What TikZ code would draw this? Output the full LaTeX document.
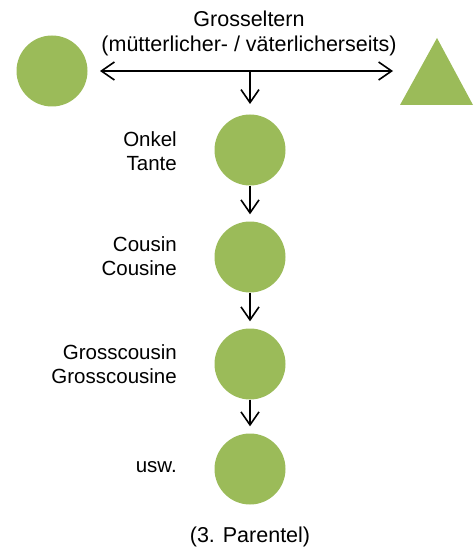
\documentclass[tikz,border=0pt]{standalone}
\usepackage{fontspec}
\setmainfont{Liberation Sans}
\usetikzlibrary{arrows.meta}
\definecolor{olive}{HTML}{9BBB59}
\begin{document}
\begin{tikzpicture}[x=1pt,y=-1pt,
  dot/.style={circle,fill=olive,draw=none,minimum size=71pt,inner sep=0pt},
  lbl/.style={anchor=east,align=right,font=\fontsize{20.5}{24}\selectfont,inner sep=0pt},
  txt/.style={align=center,font=\fontsize{21.5}{25}\selectfont,inner sep=0pt},
  arr/.style={line width=1.6pt,-{Straight Barb[length=13pt,width=18pt,line width=1.6pt]}}]
\useasboundingbox (0,0) rectangle (475,553);
\node[dot] (gl) at (52,71) {};
\fill[olive] (400,105) -- (437,38) -- (473,105) -- cycle;
\node[txt] (ge) at (249,33) {Grosseltern\\(mütterlicher- / väterlicherseits)};
\coordinate (hl) at (100,71);
\coordinate (hr) at (393,71);
\coordinate (hm) at (250,71);
\coordinate (hd) at (250,104);
\draw[line width=1.6pt,{Straight Barb[length=13pt,width=18pt,line width=1.6pt]}-{Straight Barb[length=13pt,width=18pt,line width=1.6pt]}] (hl) -- (hr);
\draw[arr] (hm) -- (hd);
\node[dot] (c1) at (250,150) {};
\node[dot] (c2) at (250,257) {};
\node[dot] (c3) at (250,364) {};
\node[dot] (c4) at (250,469) {};
\draw[arr,shorten >=7pt] (c1.south) -- (c2.north);
\draw[arr,shorten >=7pt] (c2.south) -- (c3.north);
\draw[arr,shorten >=7pt] (c3.south) -- (c4.north);
\node[lbl] (l1) at (177,151) {Onkel\\Tante};
\node[lbl] (l2) at (177,256) {Cousin\\Cousine};
\node[lbl] (l3) at (177,364) {Grosscousin\\Grosscousine};
\node[lbl] (l4) at (177,467) {usw.};
\node[txt] (par) at (250,537) {(3. Parentel)};
\end{tikzpicture}
\end{document}
